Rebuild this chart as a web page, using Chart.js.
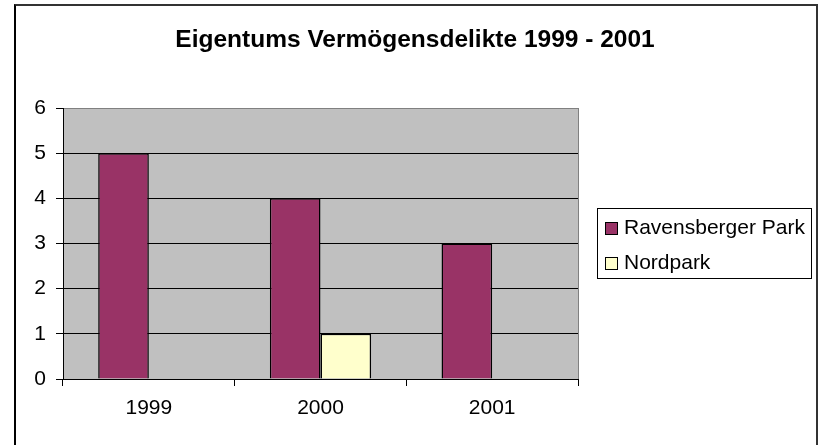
<!DOCTYPE html>
<html>
<head>
<meta charset="utf-8">
<script src="https://cdn.jsdelivr.net/npm/chart.js@4.4.0/dist/chart.umd.min.js"></script>
<style>
  html, body { margin: 0; padding: 0; background: #fff; }
  #wrap { position: relative; width: 819px; height: 445px; overflow: hidden; }
  #frame { position: absolute; left: 14px; top: 4px; width: 800px; height: 460px;
           border: 2px solid #333; border-left-color: #000; }
  canvas { position: absolute; left: 0; top: 0; }
</style>
</head>
<body>
<div id="wrap">
  <div id="frame"></div>
  <canvas id="chart" width="819" height="445"></canvas>
</div>
<script>
// data
const years = ['1999', '2000', '2001'];
const ravensberger = [5, 4, 3];
const nordpark = [0, 1, 0];
const seriesNames = ['Ravensberger Park', 'Nordpark'];
const seriesColors = ['#993366', '#FFFFCC'];
const yMin = 0, yMax = 6, yStep = 1;

const FONT = "'Liberation Sans', Arial, sans-serif";

// grey plot area + grey right edge
const plotArea = {
  id: 'plotArea',
  beforeDraw(chart) {
    const { ctx, chartArea: a } = chart;
    ctx.save();
    ctx.fillStyle = '#C0C0C0';
    ctx.fillRect(a.left, a.top, a.right - a.left, a.bottom - a.top);
    ctx.restore();
  },
  afterDraw(chart) {
    const { ctx, chartArea: a } = chart;
    ctx.save();
    ctx.strokeStyle = '#808080';
    ctx.lineWidth = 1;
    ctx.beginPath();
    ctx.moveTo(Math.round(a.right) + 0.5, a.top);
    ctx.lineTo(Math.round(a.right) + 0.5, a.bottom);
    ctx.stroke();
    ctx.restore();
  }
};

// boxed legend like the excel one
const boxLegend = {
  id: 'boxLegend',
  afterDraw(chart) {
    const ctx = chart.ctx;
    ctx.save();
    ctx.strokeStyle = '#000';
    ctx.lineWidth = 1;
    ctx.strokeRect(597.5, 208.5, 214, 70);
    ctx.font = '21px ' + FONT;
    ctx.textBaseline = 'alphabetic';
    chart.data.datasets.forEach((ds, i) => {
      const top = 222 + i * 35;
      ctx.fillStyle = ds.backgroundColor;
      ctx.fillRect(605, top, 13, 13);
      ctx.strokeRect(605.5, top + 0.5, 12, 12);
      ctx.fillStyle = '#000';
      ctx.fillText(ds.label, 624, top + 11.5);
    });
    ctx.restore();
  }
};

new Chart(document.getElementById('chart'), {
  type: 'bar',
  data: {
    labels: years,
    datasets: [
      { label: seriesNames[0], data: ravensberger, backgroundColor: seriesColors[0] },
      { label: seriesNames[1], data: nordpark, backgroundColor: seriesColors[1] }
    ]
  },
  options: {
    responsive: false,
    animation: false,
    layout: { padding: { left: 11, right: 0, top: 0, bottom: 0 } },
    datasets: {
      bar: {
        borderColor: '#000',
        borderWidth: 1.5,
        borderSkipped: 'start',
        categoryPercentage: 0.59,
        barPercentage: 1
      }
    },
    plugins: {
      legend: { display: false },
      tooltip: { enabled: false },
      title: {
        display: true,
        text: 'Eigentums Vermögensdelikte 1999 - 2001',
        color: '#000',
        font: { family: FONT, size: 24.5, weight: 'bold', lineHeight: 1.2 },
        padding: { top: 25.3, bottom: 53.3 }
      }
    },
    scales: {
      x: {
        grid: { display: true, drawOnChartArea: false, drawTicks: true, tickLength: 7, offset: true, color: '#000' },
        border: { display: true, color: '#000', width: 1 },
        ticks: { color: '#000', font: { family: FONT, size: 21 }, padding: 10 },
        afterFit(s) { s.height = 66; }
      },
      y: {
        min: yMin,
        max: yMax,
        ticks: { stepSize: yStep, color: '#000', font: { family: FONT, size: 21 }, padding: 10 },
        grid: {
          color: c => (c.tick && c.tick.value === yMax ? '#808080' : '#000'),
          tickColor: '#000',
          tickLength: 7
        },
        border: { display: true, color: '#000', width: 1 },
        afterFit(s) { s.width = 52; }
      },
      // keeps room on the right for the legend box
      reserve: {
        type: 'linear',
        position: 'right',
        display: true,
        grid: { display: false },
        border: { display: false },
        ticks: { display: false },
        afterFit(s) { s.width = 241; }
      }
    }
  },
  plugins: [plotArea, boxLegend]
});
</script>
</body>
</html>
